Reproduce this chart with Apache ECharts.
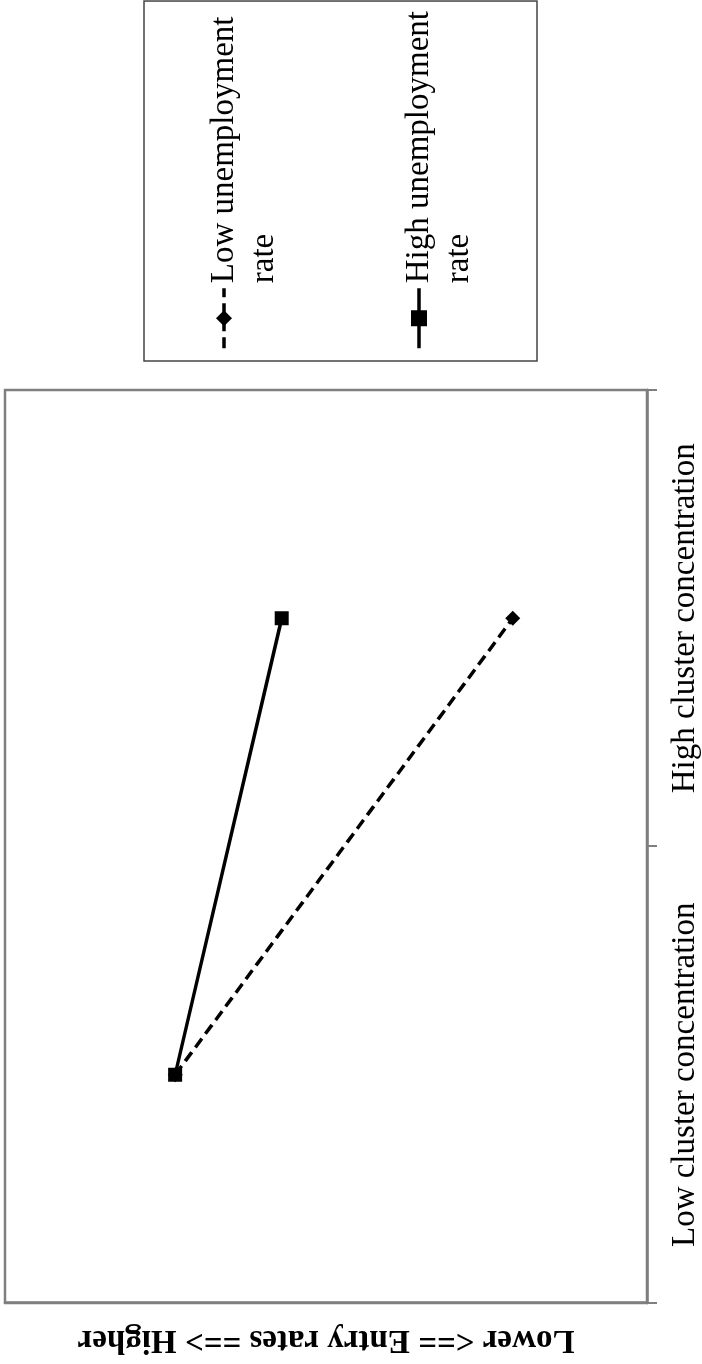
<!DOCTYPE html>
<html><head><meta charset="utf-8">
<script src="https://cdn.jsdelivr.net/npm/echarts@6/dist/echarts.min.js"></script>
<style>
html,body{margin:0;padding:0;width:702px;height:1364px;overflow:hidden;background:#fff;}
#chart{position:absolute;left:0;top:0;width:1364px;height:702px;transform-origin:0 0;transform:translate(0,1364px) rotate(-90deg);}
</style></head><body><div id="chart"></div>
<script>
const categories = ['Low cluster concentration', 'High cluster concentration'];
const seriesNames = ['Low unemployment rate', 'High unemployment rate'];
const lowUnemployment = [7.35, 2.09];
const highUnemployment = [7.35, 5.69];
const valueAxisTitle = 'Lower <== Entry rates ==> Higher';

const FONT = '"Liberation Serif", "Times New Roman", serif';
const chart = echarts.init(document.getElementById('chart'), null, {renderer: 'canvas'});
chart.setOption({
  backgroundColor: '#ffffff',
  animation: false,
  grid: {left: 57, right: 390, top: 5, bottom: 55, show: true, borderColor: '#7f7f7f', borderWidth: 2.5},
  legend: {
    orient: 'vertical', left: 1003, top: 144,
    padding: [20, 10, 58, 11],
    itemWidth: 60, itemHeight: 20, itemGap: 75,
    borderColor: '#444', borderWidth: 1.5,
    lineStyle: {width: 3.5},
    textStyle: {fontFamily: FONT, fontSize: 33, lineHeight: 40, color: '#000'},
    data: seriesNames,
    formatter: function (name) { return '\n' + name.replace(/ rate$/, '\nrate'); }
  },
  xAxis: {
    type: 'category', data: categories, boundaryGap: true,
    axisLine: {lineStyle: {color: '#7f7f7f', width: 2.5}},
    axisTick: {show: true, length: 10, lineStyle: {color: '#7f7f7f', width: 2}},
    axisLabel: {fontFamily: FONT, fontSize: 33, color: '#000', margin: 22, interval: 0}
  },
  yAxis: {
    type: 'value', min: 0, max: 10, interval: 10,
    axisLabel: {show: false}, splitLine: {show: false}, axisTick: {show: false},
    axisLine: {show: true, lineStyle: {color: '#7f7f7f', width: 2.5}},
    name: valueAxisTitle, nameLocation: 'middle', nameGap: 20,
    nameTextStyle: {fontFamily: FONT, fontSize: 33, fontWeight: 'bold', color: '#000'}
  },
  series: [
    {name: seriesNames[0], type: 'line', data: lowUnemployment, symbol: 'diamond', symbolSize: 15,
     lineStyle: {color: '#000', width: 3.5, type: [11, 6]}, itemStyle: {color: '#000'}, z: 2},
    {name: seriesNames[1], type: 'line', data: highUnemployment, symbol: 'rect', symbolSize: 14,
     lineStyle: {color: '#000', width: 3.5, type: 'solid'}, itemStyle: {color: '#000'}, z: 3}
  ]
});
</script></body></html>
